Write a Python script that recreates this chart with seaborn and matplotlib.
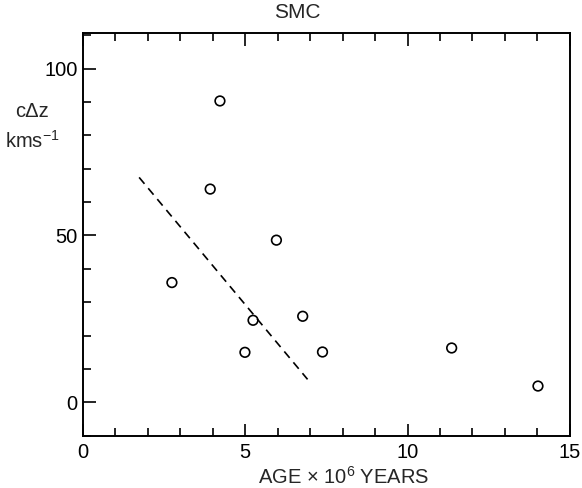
import numpy as np
import pandas as pd
import seaborn as sns
import matplotlib.pyplot as plt
from matplotlib.ticker import MultipleLocator

# SMC clusters: age (10^6 yr) vs c*delta z (km/s)
age = [2.74, 3.92, 4.22, 4.99, 5.24, 5.96, 6.77, 7.38, 11.36, 14.02]
cdz = [35.9, 63.9, 90.3, 15.0, 24.6, 48.6, 25.8, 15.1, 16.3, 4.9]

# dashed fit line end points
fit_x = [1.73, 6.92]
fit_y = [67.4, 6.9]

sns.set_style("ticks")
plt.rcParams['font.family'] = ['Liberation Sans', 'DejaVu Sans']
plt.rcParams['mathtext.default'] = 'regular'

fig = plt.figure(figsize=(5.82, 4.88), dpi=100)
ax = fig.add_axes([0.1426, 0.107, 0.8364, 0.825])

df = pd.DataFrame({'age': age, 'cdz': cdz})
sns.scatterplot(data=df, x='age', y='cdz', ax=ax, s=48, marker='o',
                facecolor='none', edgecolor='black', linewidth=1.2)
sns.lineplot(x=fit_x, y=fit_y, ax=ax, color='black', linestyle=(0, (5, 3.5)),
             linewidth=1.2)

ax.set_xlim(0, 15)
ax.set_ylim(-10, 110.6)
ax.xaxis.set_major_locator(MultipleLocator(5))
ax.xaxis.set_minor_locator(MultipleLocator(1))
ax.yaxis.set_major_locator(MultipleLocator(50))
ax.yaxis.set_minor_locator(MultipleLocator(10))

ax.tick_params(which='both', direction='in', top=True, right=False,
               labelsize=14.5, width=1.2, colors='black', pad=4)
ax.tick_params(which='major', length=9)
ax.tick_params(which='minor', length=6)
ax.tick_params(axis='x', pad=5)

for sp in ax.spines.values():
    sp.set_visible(True)
    sp.set_linewidth(1.4)
    sp.set_color('black')

ax.set_xlabel('')
ax.set_ylabel('')

fig.text(0.511, 0.975, 'SMC', ha='center', va='center', fontsize=15)
fig.text(0.055, 0.772, 'c\u0394z', ha='center', va='center', fontsize=14.5)
fig.text(0.055, 0.712, 'kms$^{-1}$', ha='center', va='center', fontsize=14.5)
fig.text(0.59, 0.022, 'AGE \u00d7 10$^{6}$ YEARS', ha='center', va='center',
         fontsize=14.5)

fig.savefig('out.png', dpi=100)
